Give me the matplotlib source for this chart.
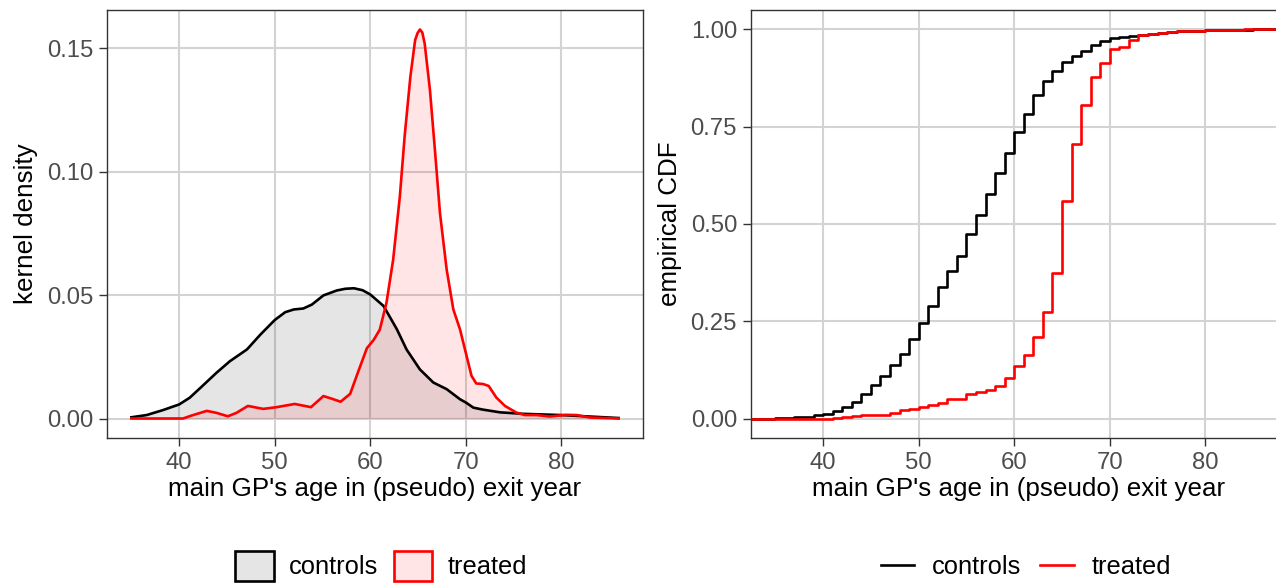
import numpy as np
import matplotlib
matplotlib.use('Agg')
import matplotlib.pyplot as plt
from matplotlib.patches import Patch
from matplotlib.lines import Line2D

# ===== data =====
# kernel density, controls
ctrl_dens_age = [35, 36.6, 38.3, 40, 41.1, 42.3, 43.9, 45.3, 47.1, 48.5, 50, 51.1, 52, 53,
                 53.9, 55.1, 56.5, 57.4, 58.3, 59.2, 60, 61.4, 62.8, 63.8, 65.2, 66.6, 68,
                 69.4, 70, 70.8, 71.8, 73.6, 76, 80, 83, 86]
ctrl_dens = [0.0005, 0.0014, 0.0034, 0.0057, 0.0084, 0.0127, 0.0185, 0.0232, 0.028, 0.034,
             0.0399, 0.0431, 0.0442, 0.0446, 0.0462, 0.0499, 0.0519, 0.0526, 0.0528, 0.0520,
             0.0503, 0.0456, 0.0361, 0.028, 0.0199, 0.0146, 0.0119, 0.0078, 0.0065, 0.0044,
             0.0036, 0.0025, 0.0019, 0.0014, 0.0008, 0.0002]

# kernel density, treated
treat_dens_age = [35, 40.4, 41.3, 42.9, 43.9, 45.1, 46, 47.2, 48.8, 50.2, 52.1, 53.8, 55.1,
                  56, 56.9, 57.9, 58.8, 59.65, 60.35, 61, 61.7, 62.4, 63.1, 63.6, 64.2, 64.7,
                  64.95, 65.2, 65.45, 65.7, 66.25, 66.8, 67.3, 68, 68.7, 69.4, 70, 70.6, 71.1,
                  71.8, 72.4, 73.2, 74.1, 75.3, 76.2, 77.4, 78.8, 80.5, 81.6, 83, 86]
treat_dens = [0, 0, 0.0012, 0.0031, 0.0023, 0.0009, 0.0023, 0.0051, 0.0039, 0.0046, 0.0059,
              0.0046, 0.0091, 0.008, 0.0068, 0.01, 0.0196, 0.0285, 0.0318, 0.036, 0.0469,
              0.0644, 0.090, 0.1143, 0.1385, 0.1534, 0.1562, 0.1577, 0.1565, 0.152, 0.1332,
              0.1075, 0.0833, 0.0604, 0.0442, 0.0361, 0.0267, 0.0173, 0.0142, 0.014, 0.0132,
              0.0085, 0.0051, 0.0024, 0.0014, 0.0014, 0.0008, 0.0015, 0.0014, 0.0004, 0.0]

# empirical CDF at each age (35..86)
ecdf_age = list(range(35, 87))
ctrl_ecdf = [0.0005, 0.001, 0.003, 0.005, 0.008, 0.012, 0.019, 0.030, 0.043, 0.062, 0.086,
             0.109, 0.137, 0.167, 0.205, 0.246, 0.290, 0.338, 0.378, 0.419, 0.474, 0.524,
             0.577, 0.630, 0.683, 0.736, 0.782, 0.831, 0.868, 0.894, 0.917, 0.932, 0.945,
             0.960, 0.970, 0.977, 0.981, 0.984, 0.986, 0.989, 0.991, 0.993, 0.995, 0.996,
             0.997, 0.998, 0.998, 0.999, 0.999, 0.999, 1.0, 1.0]
treat_ecdf = [0, 0, 0, 0, 0, 0, 0.001, 0.003, 0.006, 0.008, 0.009, 0.010, 0.015, 0.021,
              0.025, 0.030, 0.034, 0.040, 0.049, 0.051, 0.062, 0.068, 0.074, 0.083, 0.103,
              0.134, 0.163, 0.210, 0.273, 0.374, 0.558, 0.705, 0.806, 0.877, 0.913, 0.949,
              0.955, 0.974, 0.985, 0.988, 0.991, 0.993, 0.995, 0.996, 0.997, 0.998, 0.998,
              0.999, 0.999, 1.0, 1.0, 1.0]

groups = ['controls', 'treated']
line_colors = ['black', 'red']

XLABEL = "main GP's age in (pseudo) exit year"
TICK_SIZE = 17.2
TITLE_SIZE = 18.7
LEGEND_SIZE = 18.4
LW = 1.9
TICK_COLOR = '#4D4D4D'
GRID_COLOR = '#D3D3D3'

plt.rcParams['font.family'] = ['Liberation Sans', 'DejaVu Sans']


# ggplot theme_bw 비슷하게
def style_axis(ax):
    for s in ax.spines.values():
        s.set_color('#333333')
        s.set_linewidth(1.0)
    ax.grid(True, color=GRID_COLOR, linewidth=1.5)
    ax.set_axisbelow(True)
    ax.tick_params(length=6, width=1.0, color='#333333', pad=4,
                   labelsize=TICK_SIZE, labelcolor=TICK_COLOR)
    ax.set_xticks([40, 50, 60, 70, 80])
    ax.set_xlabel(XLABEL, fontsize=TITLE_SIZE, labelpad=2)


fig = plt.figure(figsize=(12.76, 5.85), dpi=100)
ax1 = fig.add_axes([107 / 1276, 1 - 438 / 585, 536 / 1276, 428 / 585])
ax2 = fig.add_axes([751 / 1276, 1 - 438 / 585, 536 / 1276, 428 / 585])

# ===== left: kernel density =====
ax1.fill_between(ctrl_dens_age, ctrl_dens, color='black', alpha=0.1, linewidth=0)
ax1.plot(ctrl_dens_age, ctrl_dens, color='black', linewidth=LW)
ax1.fill_between(treat_dens_age, treat_dens, color='red', alpha=0.1, linewidth=0)
ax1.plot(treat_dens_age, treat_dens, color='red', linewidth=LW)
ax1.set_xlim(32.45, 88.55)
ax1.set_ylim(-0.0079, 0.1656)
ax1.set_yticks([0, 0.05, 0.10, 0.15])
ax1.set_yticklabels(['0.00', '0.05', '0.10', '0.15'])
ax1.set_ylabel('kernel density', fontsize=TITLE_SIZE, labelpad=6)
style_axis(ax1)

# ===== right: empirical CDF =====
xlo, xhi = 32.45, 88.55
for vals, c in zip([ctrl_ecdf, treat_ecdf], line_colors):
    ax2.step(np.r_[xlo, ecdf_age, xhi], np.r_[0, vals, 1], where='post',
             color=c, linewidth=LW)
ax2.set_xlim(xlo, xhi)
ax2.set_ylim(-0.05, 1.05)
ax2.set_yticks([0, 0.25, 0.5, 0.75, 1.0])
ax2.set_yticklabels(['0.00', '0.25', '0.50', '0.75', '1.00'])
ax2.set_ylabel('empirical CDF', fontsize=TITLE_SIZE, labelpad=6)
style_axis(ax2)

# ===== legends =====
fill_handles = [Patch(facecolor=(0, 0, 0, 0.1), edgecolor='black', linewidth=LW),
                Patch(facecolor=(1, 0, 0, 0.1), edgecolor='red', linewidth=LW)]
fig.legend(fill_handles, groups, loc='center', bbox_to_anchor=(381 / 1276, 1 - 566 / 585),
           ncol=2, frameon=False, fontsize=LEGEND_SIZE, handlelength=1.5, handleheight=1.45,
           handletextpad=0.6, columnspacing=0.6, borderaxespad=0, borderpad=0)

line_handles = [Line2D([], [], color=c, linewidth=LW) for c in line_colors]
fig.legend(line_handles, groups, loc='center', bbox_to_anchor=(1026 / 1276, 1 - 567 / 585),
           ncol=2, frameon=False, fontsize=LEGEND_SIZE, handlelength=1.3,
           handletextpad=0.7, columnspacing=0.75, borderaxespad=0, borderpad=0)

fig.savefig('out.png', dpi=100)
